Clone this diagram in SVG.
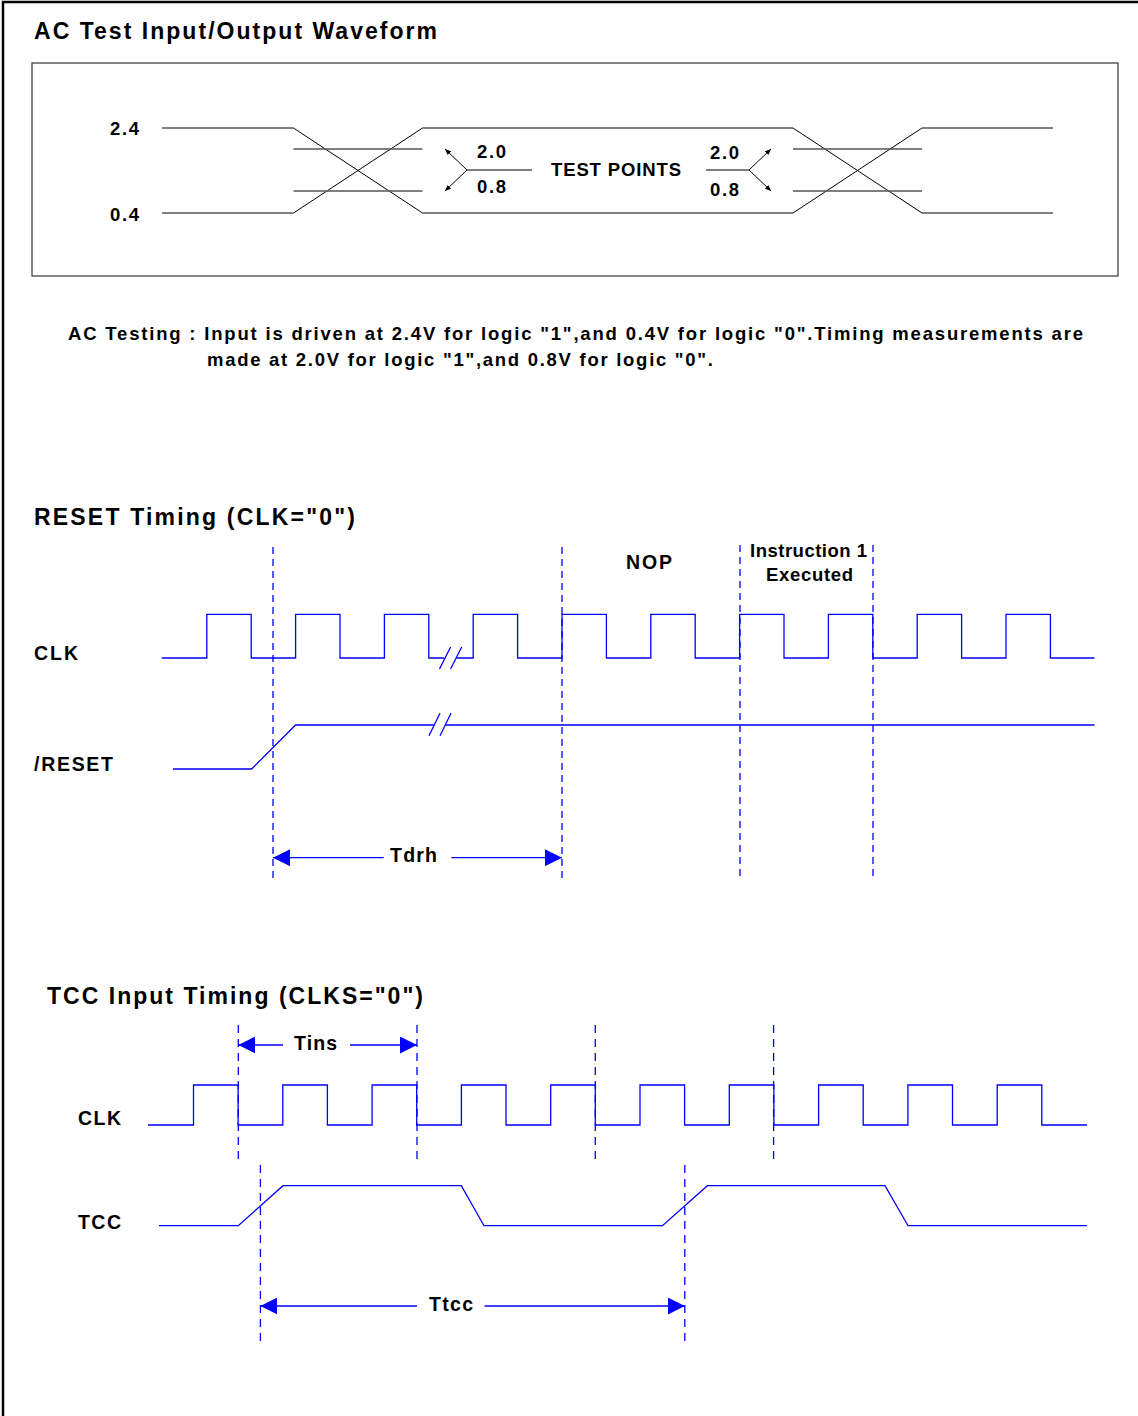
<svg xmlns="http://www.w3.org/2000/svg" width="1138" height="1416" viewBox="0 0 1138 1416">
<style>
text{font-family:"Liberation Sans",Arial,sans-serif;font-weight:bold;fill:#000}
.t21{font-size:23px}
.t19{font-size:19.5px}
.t17{font-size:18.5px}
.t16{font-size:18.5px}
.blk{fill:none;stroke:#000;stroke-width:1}
.gry{fill:none;stroke:#555;stroke-width:1.5}
.wav{fill:none;stroke:#0000ff;stroke-width:1.3}
.dsh{fill:none;stroke:#0000ff;stroke-width:1.3;stroke-dasharray:7 5}
.dsh2{fill:none;stroke:#0000ff;stroke-width:1.3;stroke-dasharray:8 6}
.dim{fill:none;stroke:#0000ff;stroke-width:1.3}
.sarr{fill:none;stroke:#000;stroke-width:1}
</style>
<defs>
<marker id="bigArrow" viewBox="0 0 17 17" refX="17" refY="8.5" markerWidth="17" markerHeight="17" markerUnits="userSpaceOnUse" orient="auto-start-reverse">
<path d="M0,0 L17,8.5 L0,17 Z" fill="#0000ff"/>
</marker>
<marker id="smallArrow" viewBox="0 0 6 5" refX="6" refY="2.5" markerWidth="6" markerHeight="5" markerUnits="userSpaceOnUse" orient="auto">
<path d="M0,0 L6,2.5 L0,5 Z" fill="#000"/>
</marker>
</defs>
<rect width="1138" height="1416" fill="#fff"/>
<path d="M3,1416 V2 H1138" fill="none" stroke="#000" stroke-width="2.5"/>

<g id="ac-test">
<text class="t21" x="34" y="39" textLength="403">AC Test Input/Output Waveform</text>
<rect x="32" y="63" width="1086" height="213" fill="none" stroke="#444" stroke-width="1.3"/>
<text class="t17" x="110" y="135" textLength="29">2.4</text>
<text class="t17" x="110" y="221" textLength="29">0.4</text>
<text class="t17" x="477" y="158" textLength="29">2.0</text>
<text class="t17" x="477" y="193" textLength="29">0.8</text>
<text class="t17" x="551" y="176" textLength="130">TEST POINTS</text>
<text class="t17" x="710" y="159" textLength="29">2.0</text>
<text class="t17" x="710" y="196" textLength="29">0.8</text>
<g id="ac-waveform">
<path class="blk" d="M162,128 H293.5 L422.5,213"/>
<path class="gry" d="M162,213 H293.5"/>
<path class="blk" d="M293.5,213 L422.5,128 H793 L922,213"/>
<path class="gry" d="M422.5,213 H793"/>
<path class="blk" d="M793,213 L922,128 H1053"/>
<path class="gry" d="M922,213 H1053"/>
<path class="gry" d="M293.5,149 H422.5 M293.5,191 H422.5 M793,149 H922 M793,191 H922"/>
</g>
<g id="ac-testpoints">
<path class="gry" d="M467,170 H532 M706,170 H749"/>
<path class="sarr" d="M467,170 L445,149" marker-end="url(#smallArrow)"/>
<path class="sarr" d="M467,170 L445,191" marker-end="url(#smallArrow)"/>
<path class="sarr" d="M749,170 L771,149" marker-end="url(#smallArrow)"/>
<path class="sarr" d="M749,170 L771,191" marker-end="url(#smallArrow)"/>
</g>
<text class="t16" x="68" y="340" textLength="1015">AC Testing : Input is driven at 2.4V for logic "1",and 0.4V for logic "0".Timing measurements are</text>
<text class="t16" x="207" y="366" textLength="506">made at 2.0V for logic "1",and 0.8V for logic "0".</text>
</g>

<g id="reset-timing">
<text class="t21" x="34" y="525" textLength="321">RESET Timing (CLK="0")</text>
<text class="t19" x="34" y="660" textLength="44">CLK</text>
<text class="t19" x="34" y="771" textLength="79">/RESET</text>
<text class="t19" x="626" y="569" textLength="46">NOP</text>
<text class="t17" x="750" y="557" textLength="117">Instruction 1</text>
<text class="t17" x="766" y="581" textLength="87">Executed</text>
<g id="reset-clk">
<path class="wav" d="M161.7,658 H206.8 V614.3 H251.2 V658 H295.6 V614.3 H340 V658 H384.4 V614.3 H428.8 V658 H444 M456.5,658 H473.2 V614.3 H517.6 V658 H562 V614.3 H606.4 V658 H650.8 V614.3 H695.2 V658 H739.6 V614.3 H784 V658 H828.4 V614.3 H872.8 V658 H917.2 V614.3 H961.6 V658 H1006 V614.3 H1050.4 V658 H1094.5"/>
<path class="wav" d="M439.5,669 L450.6,647 M450.6,669 L461.7,647"/>
</g>
<g id="reset-signal">
<path class="wav" d="M173,769 H251.6 L295.6,725 H434.5 M445.5,725 H1094.5"/>
<path class="wav" d="M429,735.7 L440,713.3 M440,735.7 L451,713.3"/>
</g>
<g id="reset-guides">
<path class="dsh" d="M273,547 V878 M562,547 V878 M740,545 V878 M873,545 V878"/>
</g>
<text class="t19" x="390" y="862" textLength="47">Tdrh</text>
</g>

<g id="tcc-timing">
<text class="t21" x="47" y="1004" textLength="376">TCC Input Timing (CLKS="0")</text>
<text class="t19" x="78" y="1125" textLength="43">CLK</text>
<text class="t19" x="78" y="1229" textLength="43">TCC</text>
<text class="t19" x="294" y="1050" textLength="43">Tins</text>
<text class="t19" x="429" y="1311" textLength="44">Ttcc</text>
<g id="tcc-clk">
<path class="wav" d="M148,1125 H193.5 V1085 H238.1 V1125 H282.8 V1085 H327.4 V1125 H372.1 V1085 H416.7 V1125 H461.4 V1085 H506 V1125 H550.7 V1085 H595.3 V1125 H640 V1085 H684.6 V1125 H729.3 V1085 H773.9 V1125 H818.6 V1085 H863.2 V1125 H907.9 V1085 H952.5 V1125 H997.2 V1085 H1041.8 V1125 H1087"/>
</g>
<g id="tcc-signal">
<path class="wav" d="M159,1225.7 H238.3 L283,1185.7 H461.3 L484,1225.7 H662.5 L707.4,1185.7 H885 L908,1225.7 H1087"/>
</g>
<g id="tcc-guides">
<path class="dsh2" d="M238.3,1025 V1165 M417,1025 V1165 M595.3,1025 V1165 M773.6,1025 V1165 M260.4,1165 V1342 M684.8,1165 V1342"/>
</g>
</g>

<g id="connectors">
<path class="dim" d="M383.6,857.7 H273" marker-end="url(#bigArrow)"/>
<path class="dim" d="M451.3,857.7 H562" marker-end="url(#bigArrow)"/>
<path class="dim" d="M283,1045 H238.3" marker-end="url(#bigArrow)"/>
<path class="dim" d="M350,1045 H417" marker-end="url(#bigArrow)"/>
<path class="dim" d="M417,1306 H260.4" marker-end="url(#bigArrow)"/>
<path class="dim" d="M484.6,1306 H684.8" marker-end="url(#bigArrow)"/>
</g>
</svg>
